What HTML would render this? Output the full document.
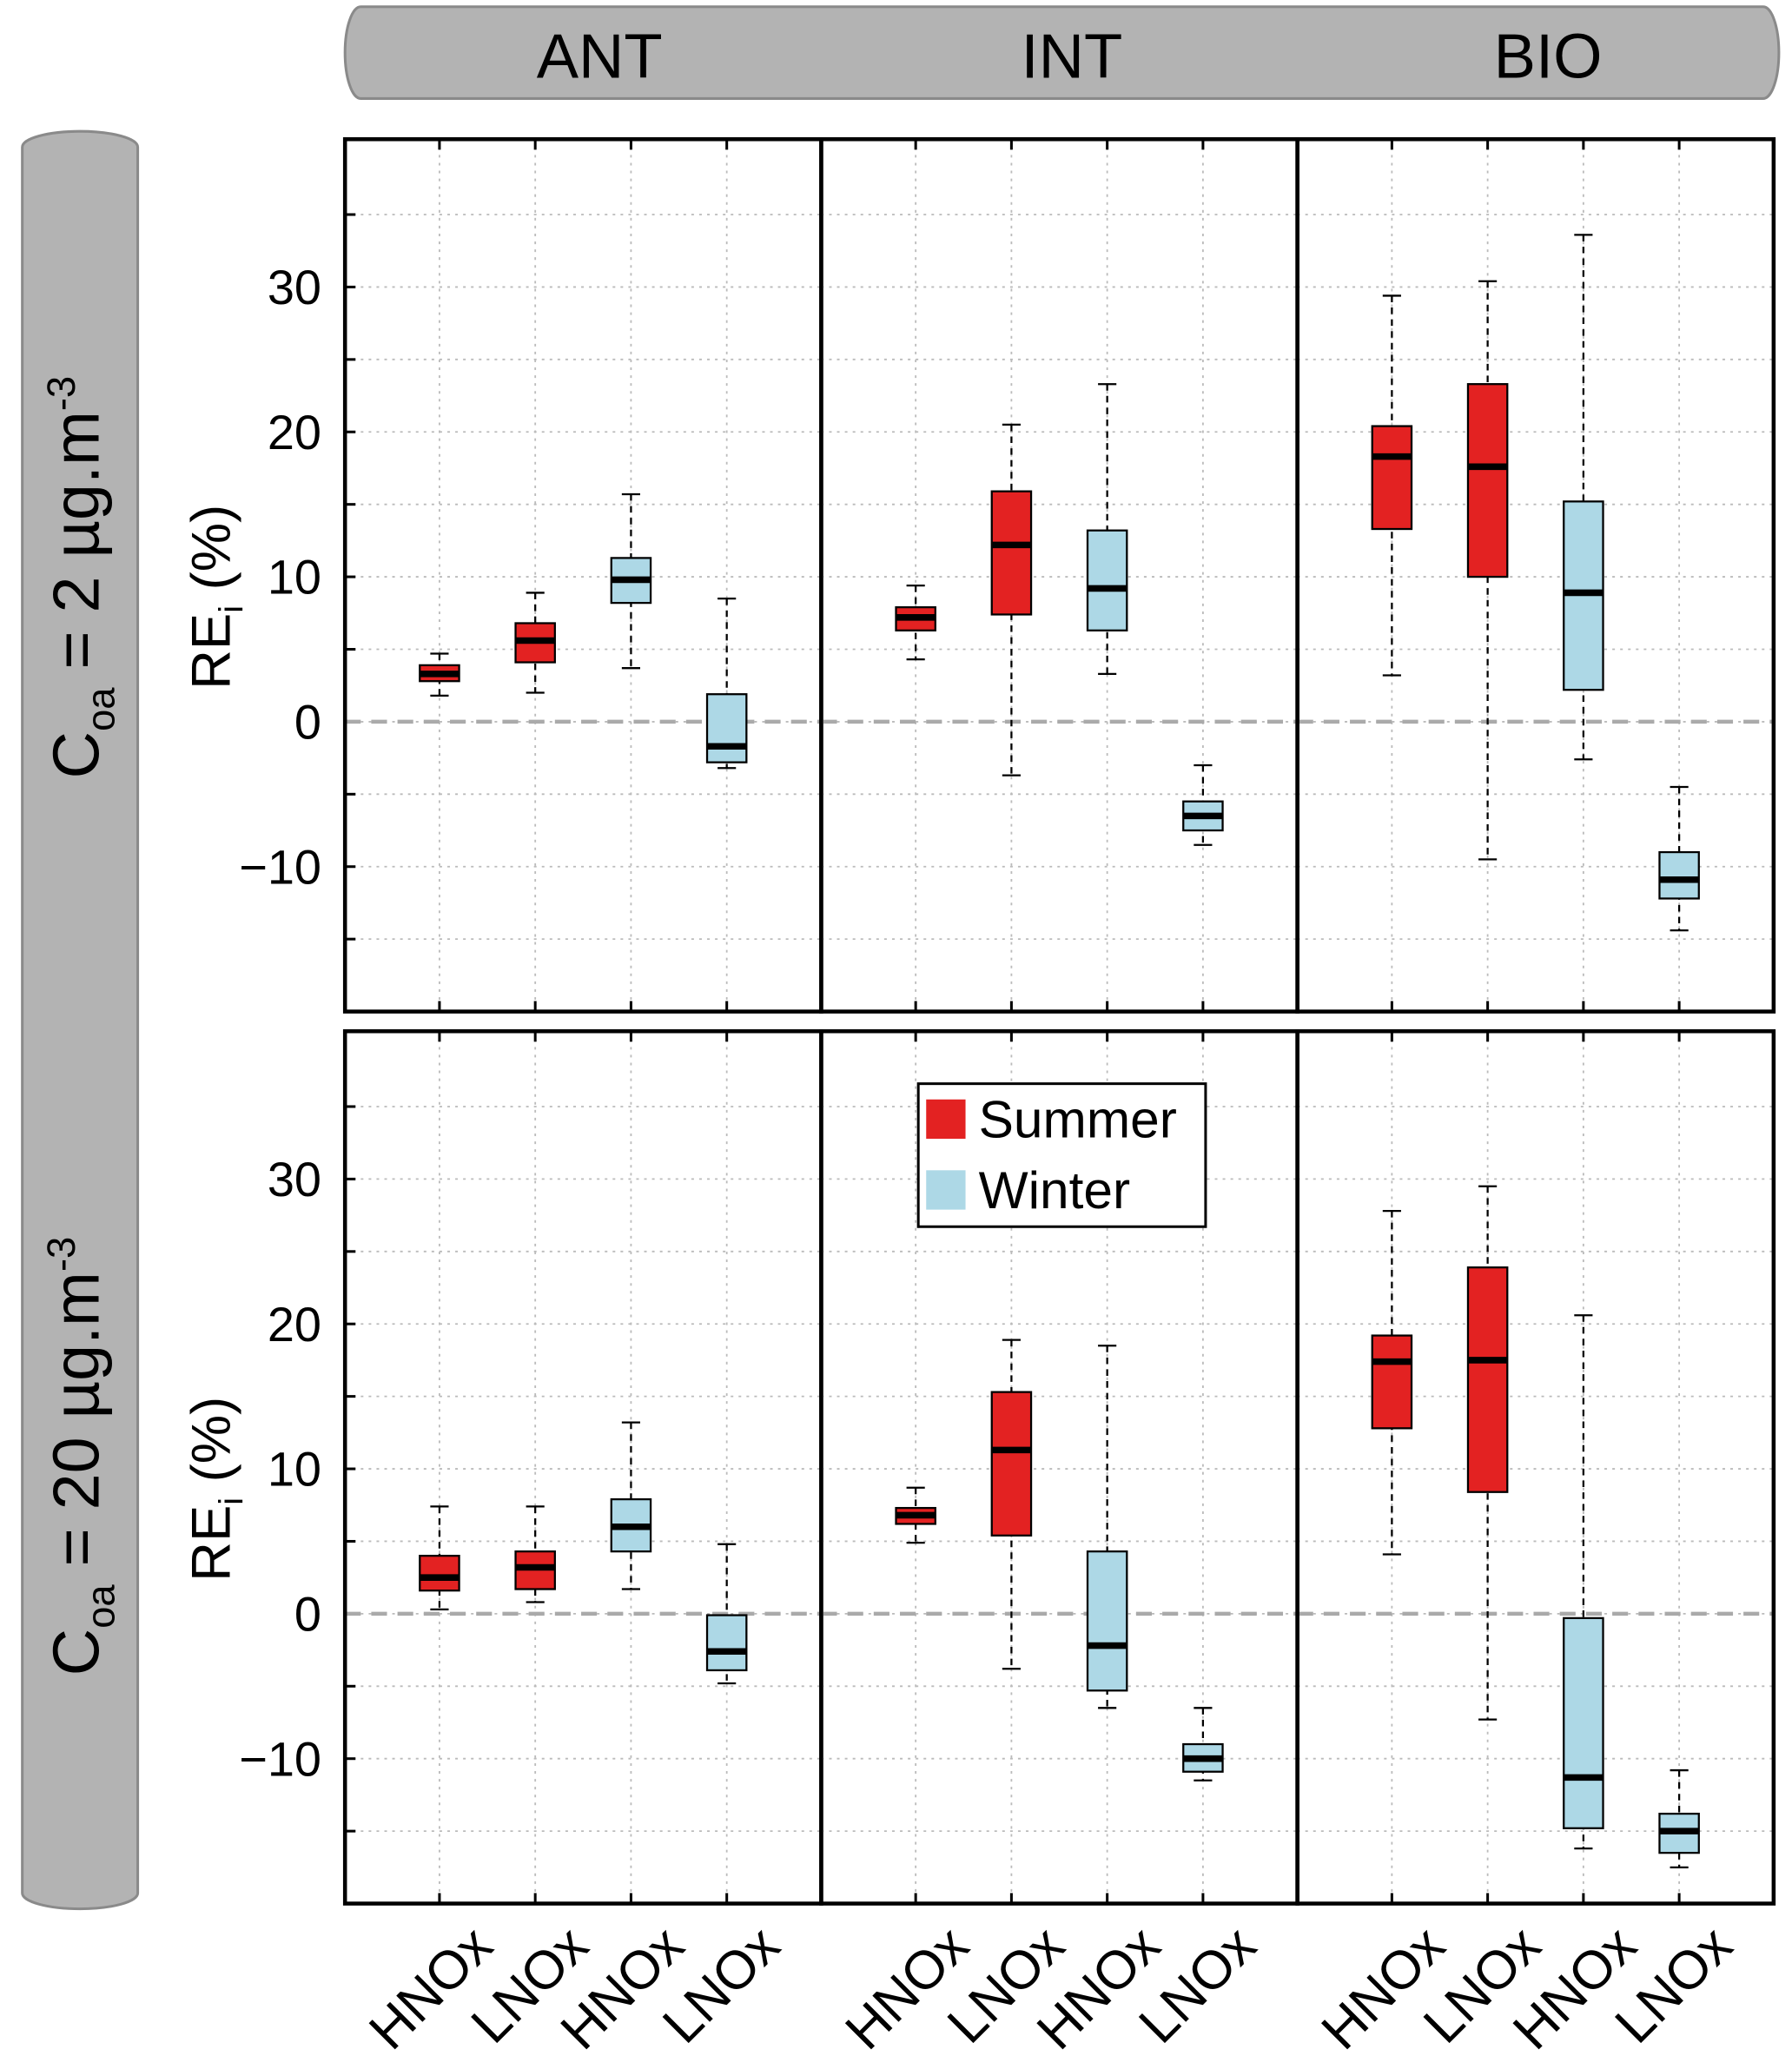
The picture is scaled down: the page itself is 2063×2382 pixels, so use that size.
<!DOCTYPE html>
<html><head><meta charset="utf-8"><style>html,body{margin:0;padding:0;background:#fff}svg{display:block}</style></head>
<body>
<svg id="chart" xmlns="http://www.w3.org/2000/svg" width="2063" height="2382" viewBox="0 0 1366 1577" font-family="'Liberation Sans', 'DejaVu Sans', sans-serif">
<rect x="0" y="0" width="1366" height="1577" fill="#fff"/>
<rect x="263" y="5" width="1093" height="70" rx="12" ry="35" fill="#b3b3b3" stroke="#8a8a8a" stroke-width="2"/>
<text x="457" y="59" font-size="48" text-anchor="middle">ANT</text>
<text x="817" y="59" font-size="48" text-anchor="middle">INT</text>
<text x="1180" y="59" font-size="48" text-anchor="middle">BIO</text>
<rect x="17" y="100" width="88" height="1355" rx="44" ry="12" fill="#b3b3b3" stroke="#8a8a8a" stroke-width="2"/>
<text transform="translate(75,440) rotate(-90)" font-size="50" text-anchor="middle">C<tspan font-size="30" dy="12">oa</tspan><tspan dy="-12"> = 2 µg.m</tspan><tspan font-size="30" dy="-18">-3</tspan></text>
<text transform="translate(75,1110) rotate(-90)" font-size="50" text-anchor="middle">C<tspan font-size="30" dy="12">oa</tspan><tspan dy="-12"> = 20 µg.m</tspan><tspan font-size="30" dy="-18">-3</tspan></text>
<g id="plots"></g>
<g>
<rect x="700" y="826" width="219" height="109" fill="#fff" stroke="#000" stroke-width="2"/>
<rect x="706" y="838" width="30" height="30" fill="#e32222"/>
<text x="746" y="867" font-size="40">Summer</text>
<rect x="706" y="892" width="30" height="30" fill="#add8e6"/>
<text x="746" y="921" font-size="40">Winter</text>
</g>
</svg>
<script>
// Columns: ANT, INT, BIO; boxes per column: HNOx-S, LNOx-S, HNOx-W, LNOx-W
const groups = ["ANT","INT","BIO"];
const cats = ["HNOx","LNOx","HNOx","LNOx"];
const seasons = ["S","S","W","W"];
const yTicks = [-10,0,10,20,30];
// each entry: [low, q1, median, q3, high]
const top_ANT = [[1.8,2.8,3.3,3.9,4.7],[2,4.1,5.6,6.8,8.9],[3.7,8.2,9.8,11.3,15.7],[-3.2,-2.8,-1.7,1.9,8.5]];
const top_INT = [[4.3,6.3,7.2,7.9,9.4],[-3.7,7.4,12.2,15.9,20.5],[3.3,6.3,9.2,13.2,23.3],[-8.5,-7.5,-6.5,-5.5,-3]];
const top_BIO = [[3.2,13.3,18.3,20.4,29.4],[-9.5,10,17.6,23.3,30.4],[-2.6,2.2,8.9,15.2,33.6],[-14.4,-12.2,-10.9,-9,-4.5]];
const bot_ANT = [[0.3,1.6,2.5,4.0,7.4],[0.8,1.7,3.2,4.3,7.4],[1.7,4.3,6,7.9,13.2],[-4.8,-3.9,-2.6,-0.1,4.8]];
const bot_INT = [[4.9,6.2,6.8,7.3,8.7],[-3.8,5.4,11.3,15.3,18.9],[-6.5,-5.3,-2.2,4.3,18.5],[-11.5,-10.9,-10,-9,-6.5]];
const bot_BIO = [[4.1,12.8,17.4,19.2,27.8],[-7.3,8.4,17.5,23.9,29.5],[-16.2,-14.8,-11.3,-0.3,20.6],[-17.5,-16.5,-15,-13.8,-10.8]];
const rowsData = [[top_ANT,top_INT,top_BIO],[bot_ANT,bot_INT,bot_BIO]];

const NS="http://www.w3.org/2000/svg";
const g=document.getElementById('plots');
function mk(t,a){const e=document.createElementNS(NS,t);for(const k in a)e.setAttribute(k,a[k]);g.appendChild(e);return e;}
const rowsY=[[106,771],[786,1451]];
const colX=[[263,626],[626,989],[989,1352]];
const yMin=-20,yMax=40.2;
rowsData.forEach((row,ri)=>{
  const [yt,yb]=rowsY[ri];
  const Y=v=>yb-(v-yMin)/(yMax-yMin)*(yb-yt);
  row.forEach((col,ci)=>{
    const [x0,x1]=colX[ci];
    const X=i=>x0+72+i*73;
    for(let v=-15;v<=35;v+=5){
      const l=mk('line',{x1:x0,x2:x1,y1:Y(v),y2:Y(v),stroke:'#bbb','stroke-width':1.2,'stroke-dasharray':'2 4'});
      
      
      if(ci===0){
        const t=mk('line',{x1:x0,x2:x0+8,y1:Y(v),y2:Y(v),stroke:'#000','stroke-width':2});
        
        
      }
    }
    cats.forEach((c,i)=>{
      const l=mk('line',{x1:X(i),x2:X(i),y1:yt,y2:yb,stroke:'#bbb','stroke-width':1.2,'stroke-dasharray':'2 4'});
      
      
      [[yt,yt+8],[yb-8,yb]].forEach(([a,b])=>{
        const t=mk('line',{x1:X(i),x2:X(i),y1:a,y2:b,stroke:'#000','stroke-width':2});
        
        
      });
    });
    const z=mk('line',{x1:x0,x2:x1,y1:Y(0),y2:Y(0),stroke:'#aaa','stroke-width':3,'stroke-dasharray':'12 8'});
    
    
    col.forEach((d,i)=>{
      const [lo,q1,md,q3,hi]=d;const x=X(i);const w=15;
      const fill=seasons[i]==='S'?'#e32222':'#add8e6';
      const wh=mk('line',{x1:x,x2:x,y1:Y(hi),y2:Y(lo),stroke:'#000','stroke-width':1.5,'stroke-dasharray':'5 4'});
      
      
      [hi,lo].forEach(v=>{
        const c=mk('line',{x1:x-7,x2:x+7,y1:Y(v),y2:Y(v),stroke:'#000','stroke-width':1.5});
        
        
      });
      const b=mk('rect',{x:x-w,y:Y(q3),width:2*w,height:Y(q1)-Y(q3),fill:fill,stroke:'#000','stroke-width':1.5});
      
      
      const m=mk('line',{x1:x-w,x2:x+w,y1:Y(md),y2:Y(md),stroke:'#000','stroke-width':5});
      
      
      if(ri===1){
        const t=mk('text',{transform:`translate(${x+22},${yb+14}) rotate(-45)`,'font-size':41,'text-anchor':'end','dominant-baseline':'hanging'});
        t.textContent=cats[i];
        
        
      }
    });
    const fr=mk('rect',{x:x0,y:yt,width:x1-x0,height:yb-yt,fill:'none',stroke:'#000','stroke-width':3});
    
    
  });
  yTicks.forEach(v=>{
    const t=mk('text',{x:245,y:Y(v)+13,'font-size':37,'text-anchor':'end'});
    t.textContent=(v<0?'\u2212':'')+Math.abs(v);
    
    
  });
  const yl=mk('text',{transform:`translate(175,${ri===0?455:1135}) rotate(-90)`,'font-size':42,'text-anchor':'middle'});
  yl.innerHTML='RE<tspan font-size="26" dy="10">i</tspan><tspan dy="-10"> (%)</tspan>';
  
  
});
</script>
</body></html>
